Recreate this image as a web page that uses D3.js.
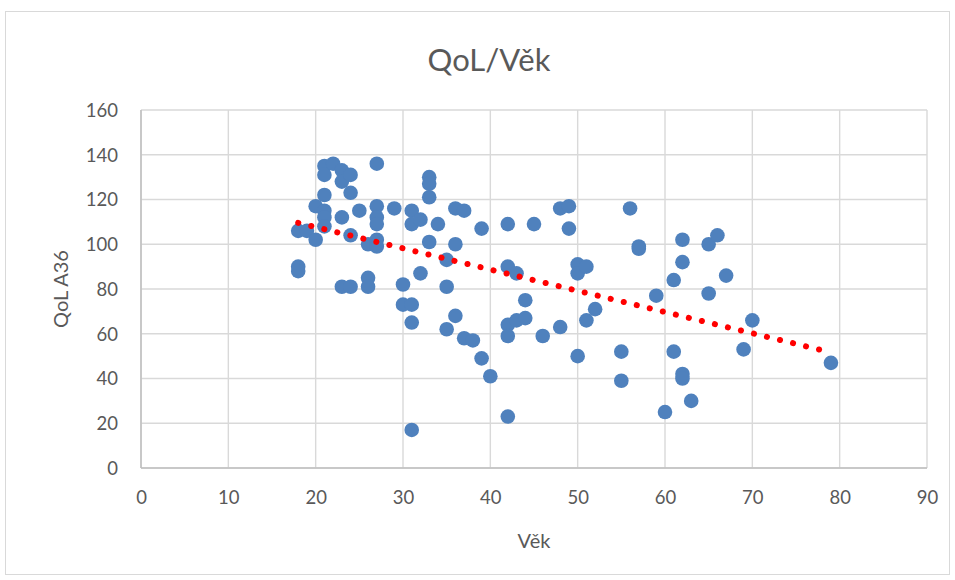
<!DOCTYPE html>
<html><head><meta charset="utf-8">
<script src="https://cdn.jsdelivr.net/npm/d3@7"></script>
<style>body{margin:0;background:#fff}svg{display:block}</style>
</head><body>
<script>
const title = "QoL/Věk";
const xTitle = "Věk";
const yTitle = "QoL A36";
const xTicks = [0,10,20,30,40,50,60,70,80,90];
const yTicks = [0,20,40,60,80,100,120,140,160];
const age = [18,18,18,19,20,20,21,21,21,21,21,21,22,23,23,23,23,24,24,24,24,25,26,26,26,27,27,27,27,27,27,29,30,30,31,31,31,31,31,32,32,33,33,33,33,34,35,35,35,36,36,36,37,37,38,39,39,40,42,42,42,42,42,43,43,44,44,45,46,48,48,49,49,50,50,50,51,51,52,55,55,56,57,57,59,60,61,61,62,62,62,62,63,65,65,66,67,69,70,79];
const qol = [106,90,88,106,117,102,135,131,122,115,112,108,136,133,128,112,81,131,123,104,81,115,100,85,81,136,117,112,109,102,99,116,82,73,115,109,73,65,17,111,87,130,127,121,101,109,93,81,62,116,100,68,115,58,57,107,49,41,109,90,64,59,23,87,66,75,67,109,59,116,63,117,107,91,87,50,90,66,71,52,39,116,99,98,77,25,84,52,102,92,42,40,30,100,78,104,86,53,66,47];

const W = 955, H = 580;
const svg = d3.select("body").append("svg").attr("width", W).attr("height", H);
svg.append("rect").attr("x",5.5).attr("y",11.5).attr("width",944).attr("height",563)
  .attr("fill","#fff").attr("stroke","#d9d9d9").attr("stroke-width",1);

const x = d3.scaleLinear().domain([0,90]).range([141,927]);
const y = d3.scaleLinear().domain([0,160]).range([468,110]);
const font = "Lato, 'Open Sans', sans-serif";
const textCol = "#595959";

// gridlines
svg.append("g").selectAll("line").data(xTicks).join("line")
  .attr("x1",d=>x(d)).attr("x2",d=>x(d)).attr("y1",y(0)).attr("y2",y(160))
  .attr("stroke","#d9d9d9").attr("stroke-width",1.4);
svg.append("g").selectAll("line").data(yTicks).join("line")
  .attr("y1",d=>y(d)).attr("y2",d=>y(d)).attr("x1",x(0)).attr("x2",x(90))
  .attr("stroke","#d9d9d9").attr("stroke-width",1.4);
// axis lines
svg.append("line").attr("x1",x(0)).attr("x2",x(90)).attr("y1",y(0)).attr("y2",y(0)).attr("stroke","#bfbfbf").attr("stroke-width",1.5);
svg.append("line").attr("x1",x(0)).attr("x2",x(0)).attr("y1",y(0)).attr("y2",y(160)).attr("stroke","#bfbfbf").attr("stroke-width",1.5);

// axes (labels only)
const xAxis = d3.axisBottom(x).tickValues(xTicks).tickSize(0).tickPadding(0);
const gx = svg.append("g").attr("transform",`translate(0,${y(0)+23})`).call(xAxis);
const yAxis = d3.axisLeft(y).tickValues(yTicks).tickSize(0).tickPadding(0);
const gy = svg.append("g").attr("transform",`translate(${x(0)-23},0)`).call(yAxis);
[gx,gy].forEach(g=>{
  g.select(".domain").remove();
  g.selectAll("text").attr("font-family",font).attr("font-size",18.5).attr("fill",textCol);
});
gx.selectAll("text").attr("dy","0.71em");
gy.selectAll("text").attr("dy","0.35em");

// titles
svg.append("text").attr("x",489).attr("y",71).attr("text-anchor","middle")
  .attr("font-family",font).attr("font-size",31).attr("fill",textCol).text(title);
svg.append("text").attr("x",534).attr("y",548).attr("text-anchor","middle")
  .attr("font-family",font).attr("font-size",20).attr("fill",textCol).text(xTitle);
svg.append("text").attr("transform",`translate(68,${y(80)}) rotate(-90)`).attr("text-anchor","middle")
  .attr("font-family",font).attr("font-size",20).attr("fill",textCol).text(yTitle);

// points
const pts = age.map((a,i)=>({a, q: qol[i]}));
svg.append("g").selectAll("circle").data(pts).join("circle")
  .attr("cx",d=>x(d.a)).attr("cy",d=>y(d.q)).attr("r",7.3)
  .attr("fill","#4f81bd");

// linear trendline (least squares from the data)
const n = age.length, mx = d3.mean(age), my = d3.mean(qol);
let sxy=0, sxx=0;
for (let i=0;i<n;i++){ sxy += (age[i]-mx)*(qol[i]-my); sxx += (age[i]-mx)**2; }
const slope = sxy/sxx, icpt = my - slope*mx;
const [x0,x1] = d3.extent(age);
svg.append("line").attr("x1",x(x0)).attr("y1",y(icpt+slope*x0))
  .attr("x2",x(x1)).attr("y2",y(icpt+slope*x1))
  .attr("stroke","#ff0000").attr("stroke-width",6).attr("stroke-linecap","round")
  .attr("stroke-dasharray","0.1 13.3");
</script>
</body></html>
